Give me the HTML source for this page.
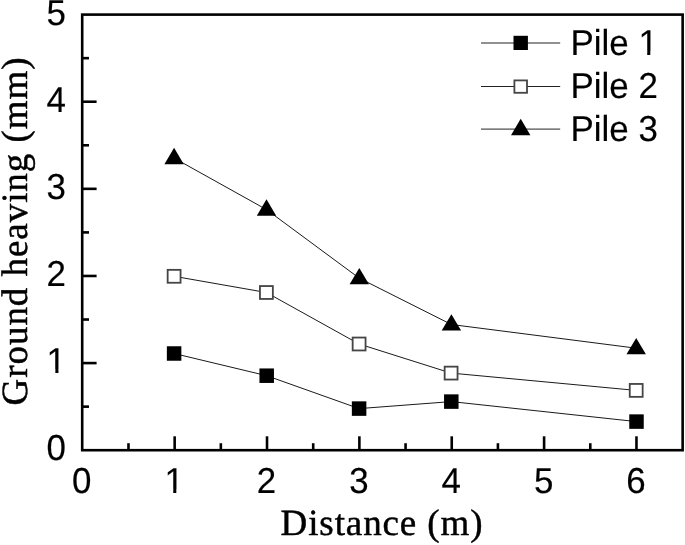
<!DOCTYPE html>
<html><head><meta charset="utf-8"><style>
html,body{margin:0;padding:0;background:#fff;width:685px;height:545px;overflow:hidden}
svg{display:block}
text{text-rendering:geometricPrecision}
.n{font-family:"Liberation Sans",Arial,sans-serif;font-size:36.0px;fill:#000;stroke:#000;stroke-width:0.15px}
.t{font-family:"Liberation Serif","Times New Roman",serif;font-size:37.0px;fill:#000;stroke:#000;stroke-width:0.45px}
</style></head><body>
<svg width="685" height="545" viewBox="0 0 685 545">
<filter id="b" x="0" y="0" width="1" height="1"><feGaussianBlur stdDeviation="0.35"/></filter>
<g filter="url(#b)">
<rect x="0" y="0" width="685" height="545" fill="#fff"/>
<rect x="82.20" y="14.60" width="600.44" height="435.60" fill="none" stroke="#000" stroke-width="2.6"/>
<g stroke="#000" stroke-width="2.6">
<line x1="174.66" y1="450.20" x2="174.66" y2="436.3"/>
<line x1="267.02" y1="450.20" x2="267.02" y2="436.3"/>
<line x1="359.38" y1="450.20" x2="359.38" y2="436.3"/>
<line x1="451.74" y1="450.20" x2="451.74" y2="436.3"/>
<line x1="544.10" y1="450.20" x2="544.10" y2="436.3"/>
<line x1="636.46" y1="450.20" x2="636.46" y2="436.3"/>
<line x1="128.48" y1="450.20" x2="128.48" y2="443.2"/>
<line x1="220.84" y1="450.20" x2="220.84" y2="443.2"/>
<line x1="313.20" y1="450.20" x2="313.20" y2="443.2"/>
<line x1="405.56" y1="450.20" x2="405.56" y2="443.2"/>
<line x1="497.92" y1="450.20" x2="497.92" y2="443.2"/>
<line x1="590.28" y1="450.20" x2="590.28" y2="443.2"/>
<line x1="82.30" y1="363.08" x2="96.6" y2="363.08"/>
<line x1="82.30" y1="275.96" x2="96.6" y2="275.96"/>
<line x1="82.30" y1="188.84" x2="96.6" y2="188.84"/>
<line x1="82.30" y1="101.72" x2="96.6" y2="101.72"/>
<line x1="82.30" y1="406.64" x2="89" y2="406.64"/>
<line x1="82.30" y1="319.52" x2="89" y2="319.52"/>
<line x1="82.30" y1="232.40" x2="89" y2="232.40"/>
<line x1="82.30" y1="145.28" x2="89" y2="145.28"/>
<line x1="82.30" y1="58.16" x2="89" y2="58.16"/>
</g>
<g class="n">
<text transform="translate(66.00,460.00) scale(0.97,1.0)" text-anchor="end">0</text>
<text transform="translate(66.00,373.00) scale(0.97,1.0)" text-anchor="end" clip-path="url(#c0)">1</text>
<text transform="translate(66.00,286.00) scale(0.97,1.0)" text-anchor="end">2</text>
<text transform="translate(66.00,199.00) scale(0.97,1.0)" text-anchor="end">3</text>
<text transform="translate(66.00,112.00) scale(0.97,1.0)" text-anchor="end">4</text>
<text transform="translate(66.00,25.00) scale(0.97,1.0)" text-anchor="end">5</text>
</g>
<g class="n">
<text transform="translate(81.80,493.00) scale(0.97,1.0)" text-anchor="middle">0</text>
<text transform="translate(174.16,493.00) scale(0.97,1.0)" text-anchor="middle" clip-path="url(#c1)">1</text>
<text transform="translate(266.52,493.00) scale(0.97,1.0)" text-anchor="middle">2</text>
<text transform="translate(358.88,493.00) scale(0.97,1.0)" text-anchor="middle">3</text>
<text transform="translate(451.24,493.00) scale(0.97,1.0)" text-anchor="middle">4</text>
<text transform="translate(543.60,493.00) scale(0.97,1.0)" text-anchor="middle">5</text>
<text transform="translate(635.96,493.00) scale(0.97,1.0)" text-anchor="middle">6</text>
</g>
<text class="t" x="382" y="534.6" text-anchor="middle" style="letter-spacing:0.9px">Distance (m)</text>
<text class="t" transform="translate(27,231) rotate(-90)" text-anchor="middle" style="letter-spacing:0.95px">Ground heaving (mm)</text>
<g fill="none" stroke="#1a1a1a" stroke-width="1.0">
<polyline points="174.1,353.5 266.7,375.7 359.1,408.6 451.3,401.6 636.5,421.6"/>
<polyline points="174.1,276.3 266.4,292.5 359.1,344.0 451.1,373.1 636.2,390.4"/>
<polyline points="174.1,158.1 266.5,209.6 359.3,278.2 451.4,324.5 636.2,348.2"/>
</g>
<g fill="#000">
<rect x="166.85" y="346.25" width="14.5" height="14.5"/>
<rect x="259.45" y="368.45" width="14.5" height="14.5"/>
<rect x="351.85" y="401.35" width="14.5" height="14.5"/>
<rect x="444.05" y="394.35" width="14.5" height="14.5"/>
<rect x="629.25" y="414.35" width="14.5" height="14.5"/>
</g>
<g fill="#fff" stroke="#444" stroke-width="1.8">
<rect x="167.65" y="269.85" width="12.9" height="12.9"/>
<rect x="259.95" y="286.05" width="12.9" height="12.9"/>
<rect x="352.65" y="337.55" width="12.9" height="12.9"/>
<rect x="444.65" y="366.65" width="12.9" height="12.9"/>
<rect x="629.75" y="383.95" width="12.9" height="12.9"/>
</g>
<g fill="#000">
<polygon points="174.10,147.80 183.80,164.20 164.40,164.20"/>
<polygon points="266.50,199.30 276.20,215.70 256.80,215.70"/>
<polygon points="359.30,267.90 369.00,284.30 349.60,284.30"/>
<polygon points="451.40,314.20 461.10,330.60 441.70,330.60"/>
<polygon points="636.20,337.90 645.90,354.30 626.50,354.30"/>
</g>
<g stroke="#222" stroke-width="1.0">
<line x1="481" y1="43.0" x2="560.2" y2="43.0"/>
<line x1="481" y1="86.5" x2="560.2" y2="86.5"/>
<line x1="481" y1="129.1" x2="560.2" y2="129.1"/>
</g>
<rect x="513.50" y="35.80" width="14.4" height="14.2" fill="#000"/>
<rect x="514.40" y="80.40" width="12.6" height="12.4" fill="#fff" stroke="#444" stroke-width="1.8"/>
<polygon points="520.70,118.7 530.40,135.2 511.00,135.2" fill="#000"/>
<g class="n">
<text transform="translate(570.50,55.00) scale(0.97,1.0)" text-anchor="start" clip-path="url(#c2)">Pile 1</text>
<text transform="translate(570.50,98.00) scale(0.97,1.0)" text-anchor="start">Pile 2</text>
<text transform="translate(570.50,141.00) scale(0.97,1.0)" text-anchor="start">Pile 3</text>
</g>
<defs><clipPath id="c0"><path clip-rule="evenodd" d="M-200,-100H300V20H-200Z M-18.26,-3.39H-10.97V5H-18.26Z M-7.79,-3.39H-0.69V5H-7.79Z"/></clipPath><clipPath id="c1"><path clip-rule="evenodd" d="M-200,-100H300V20H-200Z M-8.25,-3.39H-0.96V5H-8.25Z M2.22,-3.39H9.33V5H2.22Z"/></clipPath><clipPath id="c2"><path clip-rule="evenodd" d="M-200,-100H300V20H-200Z M71.79,-3.39H79.08V5H71.79Z M82.27,-3.39H89.37V5H82.27Z"/></clipPath></defs>
</g>
</svg>
</body></html>
